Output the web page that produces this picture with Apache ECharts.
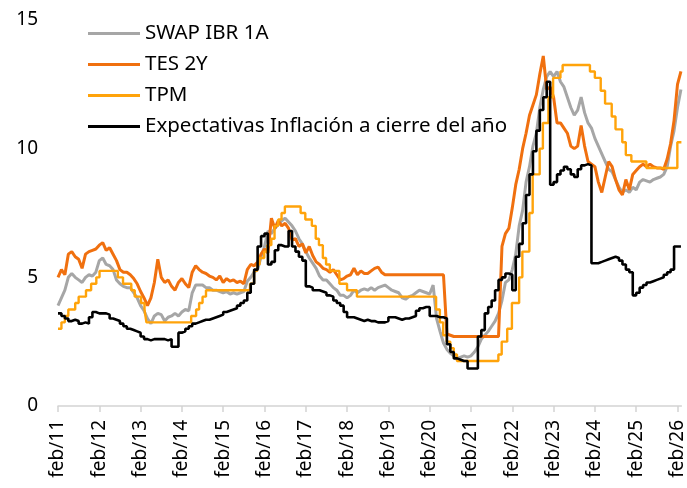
<!DOCTYPE html>
<html>
<head>
<meta charset="utf-8">
<script src="https://cdn.jsdelivr.net/npm/echarts@6/dist/echarts.min.js"></script>
<style>
  html, body { margin: 0; padding: 0; background: #fff; }
  #chart { width: 687px; height: 488px; }
</style>
</head>
<body>
<div id="chart"></div>
<script>
// monthly series, first value = feb 2011
const startYear = 2011;
const startMonth = 2;
const tickYears = [2011, 2012, 2013, 2014, 2015, 2016, 2017, 2018, 2019, 2020, 2021, 2022, 2023, 2024, 2025, 2026];
const yTicks = [0, 5, 10, 15];

const swapIbr1a = [
  3.9, 4.2, 4.5, 5.0, 5.15, 5.0, 4.9, 4.8, 5.0, 5.1, 5.05, 5.2,
  5.65, 5.75, 5.5, 5.45, 5.3, 4.9, 4.75, 4.65, 4.6, 4.6, 4.4, 4.2,
  3.9, 3.7, 3.4, 3.2, 3.5, 3.6, 3.55, 3.3, 3.45, 3.5, 3.6, 3.5,
  3.65, 3.75, 3.7, 4.4, 4.7, 4.7, 4.7, 4.6, 4.6, 4.5, 4.5, 4.45,
  4.4, 4.45, 4.35, 4.4, 4.35, 4.4, 4.45, 4.85, 5.0, 5.2, 5.3, 5.8,
  6.2, 6.8, 6.7, 6.9, 7.05, 7.2, 7.3, 7.15, 7.0, 6.8, 6.5, 6.3,
  6.0, 5.75, 5.55, 5.35, 5.05, 4.9, 4.9, 4.75, 4.6, 4.5, 4.3, 4.3,
  4.2, 4.3, 4.5, 4.4, 4.5, 4.55, 4.5, 4.6, 4.5, 4.6, 4.65, 4.7,
  4.6, 4.5, 4.45, 4.4, 4.2, 4.15, 4.25, 4.3, 4.4, 4.5, 4.45, 4.4,
  4.35, 4.7, 3.4, 2.9, 2.45, 2.2, 2.05, 1.95, 1.85, 1.9, 1.95, 1.9,
  1.95, 2.1, 2.3, 2.6, 2.75, 2.9, 3.1, 3.3, 3.6, 4.1, 4.8, 4.9,
  5.3, 5.9, 7.0, 7.6, 8.7, 9.3, 10.1, 10.6, 11.6, 12.3, 12.8, 13.0,
  12.8, 13.0, 12.6, 12.4, 12.0, 11.6, 11.3, 11.5, 12.0, 11.4, 11.0, 10.8,
  10.4, 10.1, 9.8, 9.5, 9.2, 9.1, 8.8, 8.5, 8.3, 8.4, 8.3, 8.5,
  8.4, 8.7, 8.8, 8.75, 8.7, 8.8, 8.85, 8.9, 9.0, 9.3, 10.1, 10.7,
  11.6, 12.3
];

const tes2y = [
  5.0, 5.3, 5.1, 5.9, 6.0, 5.8, 5.7, 5.35, 5.9, 6.0, 6.05, 6.1,
  6.25, 6.35, 6.05, 6.15, 5.9, 5.65, 5.3, 5.2, 5.2, 5.1, 4.95, 4.75,
  4.45, 4.2, 3.9, 4.2, 4.8, 5.7, 5.0, 4.8, 4.9, 4.65, 4.5, 4.8,
  4.95, 4.75, 4.6, 5.2, 5.45, 5.3, 5.2, 5.15, 5.05, 5.0, 4.9, 5.05,
  4.8, 4.95, 4.85, 4.9, 4.8, 4.85, 4.75, 5.3, 5.5, 5.45, 5.6, 5.9,
  6.1, 5.95, 7.3, 6.9, 7.2, 7.0, 7.1, 6.9, 6.45, 6.5, 6.2, 6.3,
  5.95, 6.2, 5.85, 5.6, 5.5, 5.35, 5.3, 5.2, 5.3, 5.1, 4.9, 4.95,
  5.05, 5.1, 5.35, 5.1, 5.25, 5.15, 5.15, 5.25, 5.35, 5.4, 5.2, 5.1,
  5.1, 5.1, 5.1, 5.1, 5.1, 5.1, 5.1, 5.1, 5.1, 5.1, 5.1, 5.1,
  5.1, 5.1, 5.1, 5.1, 5.1, 2.8, 2.75, 2.7, 2.7, 2.7, 2.7, 2.7,
  2.7, 2.7, 2.7, 2.7, 2.7, 2.7, 2.7, 2.7, 2.7, 6.2, 6.7, 6.9,
  7.7, 8.6, 9.2, 10.0, 10.6, 11.3, 11.7, 12.1, 12.9, 13.6, 12.3, 12.4,
  12.0, 11.0, 11.0, 10.8, 10.6, 10.1, 10.0, 10.1, 10.9, 10.1, 9.5, 9.4,
  9.3, 8.7, 8.3, 8.9, 9.5, 9.3, 8.8, 8.4, 8.2, 8.8, 8.4, 9.0,
  9.15, 9.3, 9.4, 9.3, 9.4, 9.3, 9.25, 9.25, 9.2, 9.6, 10.2, 11.1,
  12.5, 13.0
];

const expectativas = [
  3.6, 3.5, 3.4, 3.3, 3.35, 3.3, 3.2, 3.25, 3.2, 3.45, 3.65, 3.6,
  3.6, 3.6, 3.55, 3.4, 3.35, 3.3, 3.2, 3.1, 3.0, 2.95, 2.9, 2.85,
  2.7, 2.6, 2.55, 2.6, 2.6, 2.6, 2.6, 2.55, 2.6, 2.3, 2.3, 2.85,
  2.9, 3.0, 3.1, 3.2, 3.25, 3.3, 3.35, 3.35, 3.4, 3.45, 3.5, 3.55,
  3.65, 3.7, 3.75, 3.8, 3.9, 4.0, 4.1, 4.4, 4.75, 5.3, 6.2, 6.6,
  6.7, 5.5, 5.6, 6.05, 6.25, 6.2, 6.2, 6.8, 6.2, 6.0, 5.8, 5.65,
  4.65, 4.6, 4.5, 4.5, 4.45, 4.4, 4.3, 4.25, 4.1, 4.0, 3.9, 3.65,
  3.45, 3.45, 3.4, 3.35, 3.3, 3.35, 3.3, 3.3, 3.25, 3.25, 3.25, 3.3,
  3.45, 3.45, 3.4, 3.35, 3.4, 3.4, 3.45, 3.5, 3.7, 3.8, 3.85, 3.85,
  3.5, 3.5, 3.45, 3.45, 3.4, 2.4, 2.1, 1.85, 1.8, 1.75, 1.75, 1.46,
  1.46, 1.46, 2.7, 2.95, 3.6, 3.85, 4.1, 4.5, 4.9, 5.0, 5.15, 5.1,
  4.5, 5.8, 6.3, 7.1, 8.2, 9.0, 9.9, 10.7, 11.5, 12.0, 12.6, 8.6,
  8.7, 9.0, 9.15, 9.3, 9.2, 9.0, 8.9, 9.2, 9.35, 9.4, 9.35, 5.55,
  5.55, 5.6, 5.65, 5.7, 5.75, 5.8, 5.75, 5.65, 5.5, 5.3, 5.2, 4.3,
  4.4, 4.6, 4.7, 4.8, 4.85, 4.9, 4.95, 5.0, 5.1, 5.2, 5.3, 6.2,
  6.2, 6.2
];

// TPM: date from which each rate applies
const tpmDates = [
  '2011-02-01', '2011-03-01', '2011-04-01', '2011-05-01', '2011-07-01', '2011-08-01',
  '2011-10-05', '2011-11-20', '2012-01-05', '2012-02-03', '2012-07-13', '2012-08-28',
  '2012-11-10', '2012-12-10', '2013-02-05', '2013-03-05', '2013-03-22', '2014-04-22',
  '2014-06-05', '2014-07-01', '2014-08-01', '2014-09-01', '2015-09-25', '2015-10-30',
  '2015-11-27', '2015-12-18', '2016-01-29', '2016-02-26', '2016-03-31', '2016-04-29',
  '2016-05-31', '2016-06-30', '2016-07-29', '2016-12-16', '2017-01-27', '2017-03-24',
  '2017-04-28', '2017-05-26', '2017-06-30', '2017-07-28', '2017-08-31', '2017-11-24',
  '2018-01-31', '2018-04-27', '2020-03-27', '2020-04-30', '2020-05-29', '2020-06-30',
  '2020-07-31', '2020-08-31', '2020-09-29', '2021-09-30', '2021-10-29', '2021-12-17',
  '2022-01-28', '2022-03-31', '2022-04-29', '2022-06-30', '2022-07-29', '2022-09-30',
  '2022-10-28', '2022-12-16', '2023-01-27', '2023-03-31', '2023-04-20', '2023-12-18',
  '2024-01-31', '2024-03-22', '2024-04-30', '2024-06-28', '2024-07-31', '2024-09-30',
  '2024-10-31', '2024-12-19', '2025-04-30', '2026-01-30', '2026-03-05'
];
const tpmValues = [
  3.0, 3.25, 3.5, 3.75, 4.0, 4.25,
  4.5, 4.75, 5.0, 5.25, 5.0, 4.75,
  4.5, 4.25, 4.0, 3.75, 3.25, 3.5,
  3.75, 4.0, 4.25, 4.5, 4.75, 5.25,
  5.5, 5.75, 6.0, 6.25, 6.5, 7.0,
  7.25, 7.5, 7.75, 7.5, 7.25, 7.0,
  6.5, 6.25, 5.75, 5.5, 5.25, 4.75,
  4.5, 4.25, 3.75, 3.25, 2.75, 2.5,
  2.25, 2.0, 1.75, 2.0, 2.5, 3.0,
  4.0, 5.0, 6.0, 7.5, 9.0, 10.0,
  11.0, 12.0, 12.75, 13.0, 13.25, 13.0,
  12.75, 12.25, 11.75, 11.25, 10.75, 10.25,
  9.75, 9.5, 9.25, 10.25, 10.25
];

const names = ['SWAP IBR 1A', 'TES 2Y', 'TPM', 'Expectativas Inflación a cierre del año'];
const colors = ['#a6a6a6', '#f0700f', '#ffa30a', '#000000'];

function monthX(i) {
  return startYear + (startMonth - 1 + i) / 12;
}
function dateX(s) {
  const p = s.split('-').map(Number);
  return p[0] + (p[1] - 1) / 12 + (p[2] - 1) / 365;
}
function monthly(arr) {
  return arr.map((v, i) => [monthX(i), v]);
}

const febTicks = tickYears.map(y => y + 1 / 12);
const fontFamily = '"Noto Sans", "Open Sans", sans-serif';

var chartDom = document.getElementById('chart');
var myChart = echarts.init(chartDom);
var option = {
  animation: false,
  textStyle: { fontFamily: fontFamily },
  grid: { left: 58, right: 5, top: 20, bottom: 82 },
  legend: {
    orient: 'vertical',
    left: 83,
    top: 18,
    icon: 'rect',
    itemWidth: 52,
    itemHeight: 3,
    itemGap: 10,
    textStyle: { fontSize: 20.5, color: '#000', fontFamily: fontFamily },
    data: names
  },
  xAxis: {
    type: 'value',
    min: febTicks[0],
    max: monthX(swapIbr1a.length - 1) + 0.01,
    splitLine: { show: false },
    axisLine: { lineStyle: { color: '#d4d4d4', width: 1.5 } },
    axisTick: { show: true, length: 6, customValues: febTicks, lineStyle: { color: '#d4d4d4', width: 1.5 } },
    axisLabel: {
      customValues: febTicks,
      rotate: 90,
      margin: 14,
      fontSize: 19,
      color: '#000',
      fontFamily: fontFamily,
      formatter: v => 'feb/' + String(Math.round(v - 1 / 12)).slice(2)
    }
  },
  yAxis: {
    type: 'value',
    min: yTicks[0],
    max: yTicks[yTicks.length - 1],
    interval: 5,
    splitLine: { show: false },
    axisLine: { show: false },
    axisTick: { show: false },
    axisLabel: { fontSize: 19, color: '#000', margin: 20, fontFamily: fontFamily }
  },
  series: [
    {
      name: names[0], type: 'line', data: monthly(swapIbr1a), symbol: 'none',
      lineStyle: { width: 3, color: colors[0] }, itemStyle: { color: colors[0] }
    },
    {
      name: names[1], type: 'line', data: monthly(tes2y), symbol: 'none',
      lineStyle: { width: 3, color: colors[1] }, itemStyle: { color: colors[1] }
    },
    {
      name: names[2], type: 'line', step: 'end',
      data: tpmDates.map((d, i) => [dateX(d), tpmValues[i]]), symbol: 'none',
      lineStyle: { width: 2.4, color: colors[2] }, itemStyle: { color: colors[2] }
    },
    {
      name: names[3], type: 'line', step: 'end', data: monthly(expectativas), symbol: 'none',
      lineStyle: { width: 2.6, color: colors[3] }, itemStyle: { color: colors[3] }
    }
  ]
};

option && myChart.setOption(option);
</script>
</body>
</html>
